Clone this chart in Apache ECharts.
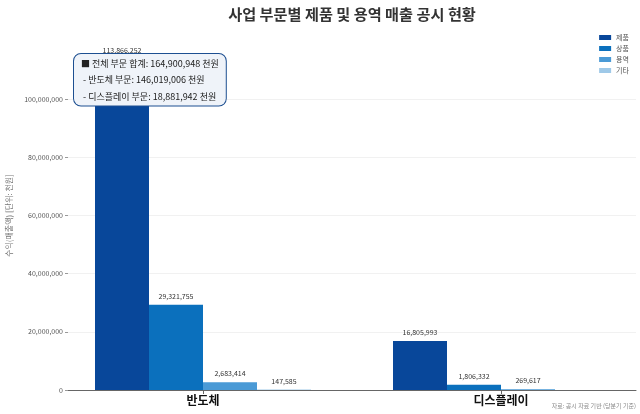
<!DOCTYPE html>
<html>
<head>
<meta charset="utf-8">
<script src="https://cdn.jsdelivr.net/npm/echarts@6/dist/echarts.min.js"></script>
<style>
html,body{margin:0;padding:0;background:#fff;}
#chart{width:640px;height:414px;}
</style>
</head>
<body>
<div id="chart"></div>
<script>
// 데이터
var categories = ['반도체', '디스플레이'];
var seriesNames = ['제품', '상품', '용역', '기타'];
var productVals = [113866252, 16805993];
var goodsVals = [29321755, 1806332];
var serviceVals = [2683414, 269617];
var otherVals = [147585, null];
var colors = ['#08479a', '#0b70bd', '#4a9ad6', '#9fc9e8'];

var FONT = '"Noto Sans CJK KR", "Noto Sans", sans-serif';

function fmt(v) {
	return Number(v).toLocaleString('en-US');
}

var allVals = [productVals, goodsVals, serviceVals, otherVals];
var segTotals = categories.map(function(c, i) {
	var s = 0;
	allVals.forEach(function(arr){ if(arr[i] != null) s += arr[i]; });
	return s;
});
var grandTotal = segTotals[0] + segTotals[1];

var chart = echarts.init(document.getElementById('chart'));

var series = allVals.map(function(arr, k) {
	return {
		name: seriesNames[k],
		type: 'bar',
		barWidth: 54,
		barGap: '0%',
		itemStyle: { color: colors[k] },
		label: {
			show: true,
			position: 'top',
			distance: 5,
			fontSize: 7,
			color: '#333',
			fontFamily: FONT,
			formatter: function(p){ return fmt(p.value[1]); }
		},
		data: arr.map(function(v, i){ return v == null ? null : [i, v]; }).filter(function(d){ return d; })
	};
});

var option = {
	backgroundColor: '#fff',
	animation: false,
	textStyle: { fontFamily: FONT },
	title: {
		text: '사업 부문별 제품 및 용역 매출 공시 현황',
		left: 347,
		textAlign: 'center',
		top: 2,
		textStyle: { fontSize: 15.2, fontWeight: 'bold', color: '#333', fontFamily: FONT }
	},
	legend: {
		orient: 'vertical',
		right: 6,
		top: 29,
		itemWidth: 12,
		itemHeight: 5,
		itemGap: 4,
		icon: 'rect',
		textStyle: { fontSize: 7, color: '#555', fontFamily: FONT },
		data: seriesNames
	},
	grid: { left: 68, right: 4, top: 41, bottom: 24, containLabel: false, outerBoundsMode: 'none' },
	xAxis: {
		type: 'value',
		min: -0.453,
		max: 1.453,
		axisLine: { show: true, onZero: false, lineStyle: { color: '#666', width: 1 } },
		axisTick: { show: true, customValues: [0, 1], length: 4, lineStyle: { color: '#666' } },
		axisLabel: {
			customValues: [0, 1],
			formatter: function(v){ return categories[Math.round(v)]; },
			fontSize: 12,
			fontWeight: 'bold',
			color: '#111',
			margin: 4,
			fontFamily: FONT
		},
		splitLine: { show: false }
	},
	yAxis: {
		type: 'value',
		min: 0,
		max: 120000000,
		interval: 20000000,
		name: '수익(매출액) [단위: 천원]',
		nameLocation: 'middle',
		nameGap: 55,
		nameTextStyle: { fontSize: 8, color: '#777', fontFamily: FONT },
		axisLine: { show: false, onZero: false },
		axisTick: { show: true, length: 3, lineStyle: { color: '#999' } },
		axisLabel: {
			fontSize: 7,
			color: '#555',
			margin: 5,
			showMaxLabel: false,
			fontFamily: FONT,
			formatter: function(v){ return fmt(v); }
		},
		splitLine: { show: true, showMaxLine: false, lineStyle: { color: '#f1f1f1', width: 1 } }
	},
	graphic: [
		{
			type: 'text',
			left: 73,
			top: 53,
			z: 100,
			style: {
				text: '■ 전체 부문 합계: ' + fmt(grandTotal) + ' 천원\n' +
					' - ' + categories[0] + ' 부문: ' + fmt(segTotals[0]) + ' 천원\n' +
					' - ' + categories[1] + ' 부문: ' + fmt(segTotals[1]) + ' 천원',
				font: '9px ' + FONT,
				fill: '#222',
				lineHeight: 16.5,
				backgroundColor: '#eff3f9',
				borderColor: '#1d4f91',
				borderWidth: 1,
				borderRadius: 7,
				padding: [1, 7, 1, 7]
			}
		},
		{
			type: 'text',
			right: 4,
			bottom: 5,
			style: {
				text: '자료: 공시 자료 기반 (당분기 기준)',
				font: '6px ' + FONT,
				fill: '#888'
			}
		}
	],
	series: series
};

chart.setOption(option);
</script>
</body>
</html>
